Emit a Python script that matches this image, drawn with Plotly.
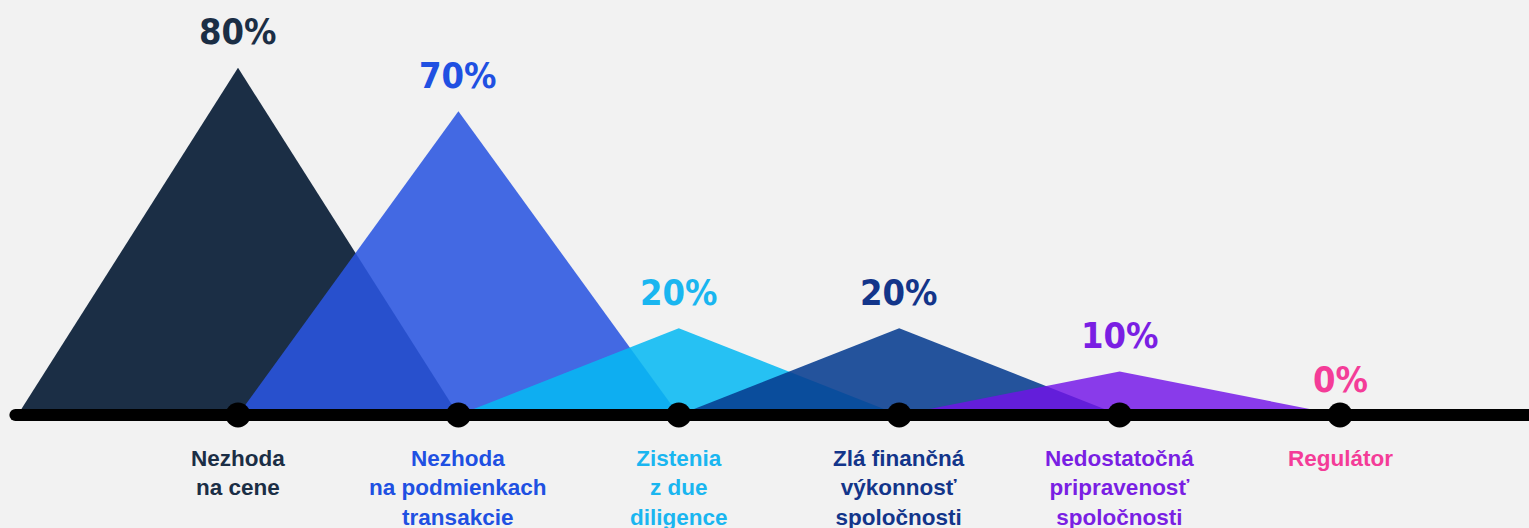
import plotly.graph_objects as go

categories = [
    "Nezhoda<br>na cene",
    "Nezhoda<br>na podmienkach<br>transakcie",
    "Zistenia<br>z due<br>diligence",
    "Zlá finančná<br>výkonnosť<br>spoločnosti",
    "Nedostatočná<br>pripravenosť<br>spoločnosti",
    "Regulátor",
]
values = [80, 70, 20, 20, 10, 0]
value_labels = ["80%", "70%", "20%", "20%", "10%", "0%"]

fill_colors = ["#1b2e45", "#2a55e0", "#07b9f2", "#073c8f", "#7212e8", "#ff3c9a"]
fill_opacity = [1.0, 0.88, 0.87, 0.88, 0.82, 0.85]
label_colors = ["#1b2e45", "#2050e2", "#1ab6f0", "#13358a", "#7a1fe3", "#f43c98"]

BG = "#f2f2f2"

fig = go.Figure()
xs = list(range(len(categories)))

# triangles
for i, v in enumerate(values):
    fig.add_trace(go.Scatter(
        x=[xs[i] - 1, xs[i], xs[i] + 1, xs[i] - 1],
        y=[0, v, 0, 0],
        mode="lines", fill="toself",
        fillcolor=fill_colors[i], opacity=fill_opacity[i],
        line=dict(width=0, color=fill_colors[i]),
        hoverinfo="skip", showlegend=False,
    ))

# base line
fig.add_trace(go.Scatter(
    x=[xs[0] - 1.01, xs[-1] + 1.0],
    y=[0, 0],
    mode="lines", line=dict(color="#000000", width=12),
    hoverinfo="skip", showlegend=False,
))
fig.add_trace(go.Scatter(
    x=[xs[0] - 1.01], y=[0], mode="markers",
    marker=dict(color="#000000", size=12),
    hoverinfo="skip", showlegend=False,
))
# dots
fig.add_trace(go.Scatter(
    x=xs, y=[0] * len(xs), mode="markers",
    marker=dict(color="#000000", size=25),
    hoverinfo="skip", showlegend=False,
))

# value labels
for i, v in enumerate(values):
    fig.add_annotation(
        x=xs[i], y=v, text="<b>" + value_labels[i] + "</b>",
        showarrow=False, yanchor="middle", yshift=36,
        font=dict(family="DejaVu Sans Condensed, Roboto, sans-serif",
                  size=36, color=label_colors[i]),
    )
    fig.add_annotation(
        x=xs[i], y=0, text="<b>" + categories[i] + "</b>",
        showarrow=False, yanchor="top", yshift=-29, align="center",
        font=dict(family="Liberation Sans, Arial, sans-serif", size=22.5, color=label_colors[i]),
    )

px_per_idx = 220.4
fig.update_layout(
    width=1529, height=528,
    margin=dict(l=0, r=0, t=0, b=0),
    paper_bgcolor=BG, plot_bgcolor=BG,
    xaxis=dict(range=[-238 / px_per_idx, (1529 - 238) / px_per_idx],
               visible=False, fixedrange=True),
    yaxis=dict(range=[-113 / 4.34, 415 / 4.34], visible=False, fixedrange=True),
    showlegend=False,
)

fig.write_html("out.html")
